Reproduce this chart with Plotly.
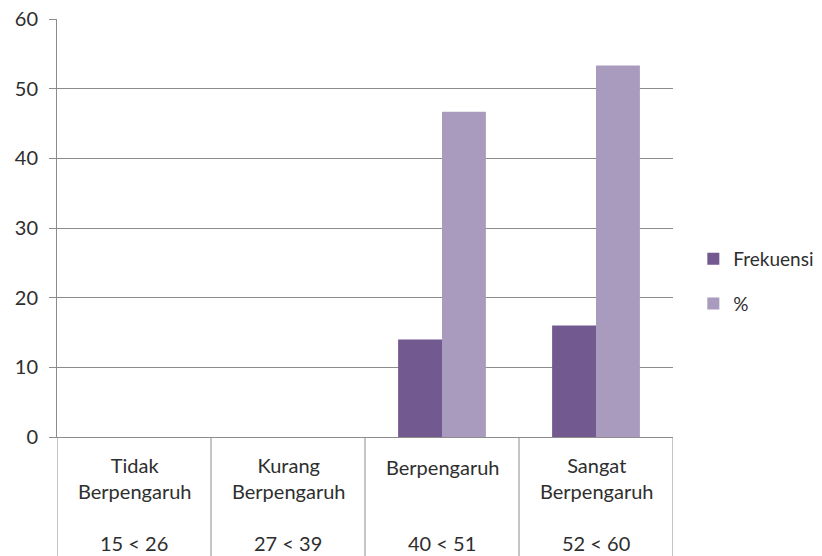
import plotly.graph_objects as go

# Kategori pengaruh dan rentang skor
kategori = ["Tidak Berpengaruh", "Kurang Berpengaruh", "Berpengaruh", "Sangat Berpengaruh"]
label_atas = ["Tidak<br>Berpengaruh", "Kurang<br>Berpengaruh", "Berpengaruh", "Sangat<br>Berpengaruh"]
rentang = ["15 < 26", "27 < 39", "40 < 51", "52 < 60"]

frekuensi = [0, 0, 14, 16]
persen = [0, 0, 46.67, 53.33]

warna_frek = "#725990"
warna_persen = "#A99BBD"
abu = "#8C8C8C"
teks = "#2E2E2E"
FONT = "Lato"
UKURAN = 20

fig = go.Figure()
fig.add_trace(go.Bar(x=kategori, y=frekuensi, name="Frekuensi",
                     marker=dict(color=warna_frek, line=dict(width=0)),
                     legendgroup="a"))
fig.add_trace(go.Bar(x=kategori, y=persen, name="%",
                     marker=dict(color=warna_persen, line=dict(width=0)),
                     legendgroup="b"))

# Tabel kategori di bawah sumbu X
for i in range(len(kategori) + 1):
    fig.add_shape(type="line", xref="x", yref="paper",
                  x0=i - 0.5, x1=i - 0.5, y0=0, y1=-0.29,
                  line=dict(color=abu, width=1))

for k, top, r in zip(kategori, label_atas, rentang):
    dua_baris = "<br>" in top
    fig.add_annotation(x=k, xref="x", yref="paper",
                       y=-0.098 if dua_baris else -0.0718, yanchor="middle",
                       text=top, showarrow=False,
                       font=dict(family=FONT, size=UKURAN, color=teks))
    fig.add_annotation(x=k, xref="x", yref="paper", y=-0.2536, yanchor="middle",
                       text=r, showarrow=False,
                       font=dict(family=FONT, size=UKURAN, color=teks))

fig.update_layout(
    width=822, height=556,
    margin=dict(l=57, r=149, t=19, b=119, autoexpand=False),
    paper_bgcolor="white", plot_bgcolor="white",
    barmode="group", bargap=0.43, bargroupgap=0,
    font=dict(family=FONT, size=UKURAN, color=teks),
    legend=dict(x=1.033, xanchor="left", y=0.372, yanchor="middle",
                tracegroupgap=17, font=dict(family=FONT, size=19, color=teks),
                itemwidth=30),
    xaxis=dict(showticklabels=False, showline=True, linecolor=abu, linewidth=1,
               ticks="", range=[-0.5, 3.5], fixedrange=True),
    yaxis=dict(range=[0, 60], dtick=10, showgrid=True, gridcolor=abu, gridwidth=1,
               showline=True, linecolor=abu, linewidth=1,
               ticks="outside", ticklen=7, tickcolor=abu,
               ticklabelstandoff=7,
               tickfont=dict(family=FONT, size=UKURAN, color=teks),
               zeroline=False),
)

fig.write_html("out.html")
